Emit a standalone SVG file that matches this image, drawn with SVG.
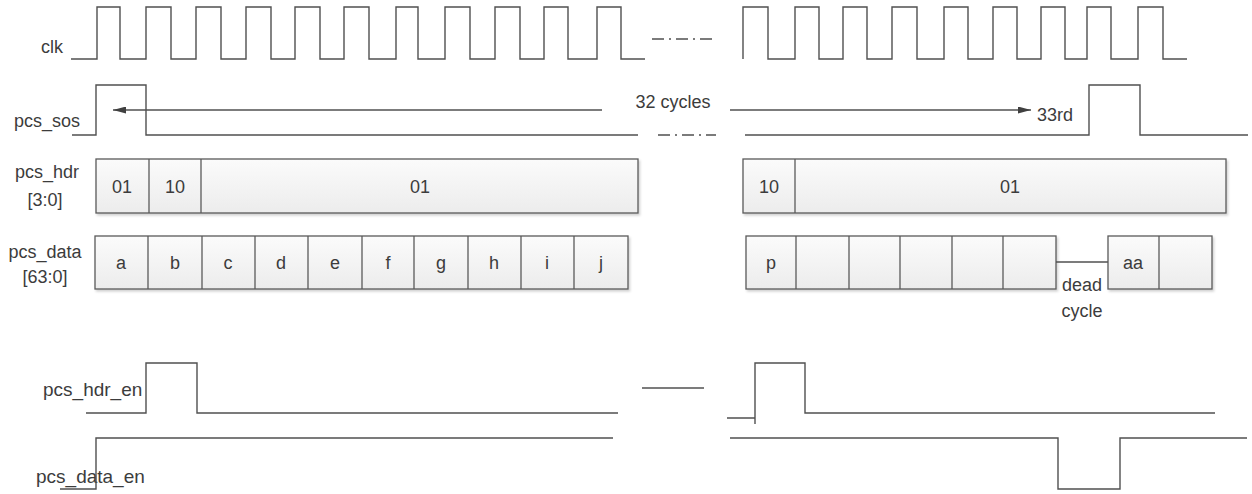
<svg xmlns="http://www.w3.org/2000/svg" width="1252" height="494" viewBox="0 0 1252 494">
<style>
.w{fill:none;stroke:#505050;stroke-width:1.4}
.dd{fill:none;stroke:#505050;stroke-width:1.4;stroke-dasharray:12 5 2 5}
.bx{fill:url(#g);stroke:#5a5a5a;stroke-width:1.3;filter:url(#sh)}
.dv{stroke:#5a5a5a;stroke-width:1.3}
text{font-family:"Liberation Sans",Arial,sans-serif;font-size:18px;fill:#3c3c3c}
.c{text-anchor:middle}
.en{font-size:19px}
</style>
<defs>
<linearGradient id="g" x1="0" y1="0" x2="0" y2="1"><stop offset="0" stop-color="#fbfbfb"/><stop offset="1" stop-color="#ececec"/></linearGradient>
<filter id="sh" x="-5%" y="-20%" width="110%" height="150%"><feDropShadow dx="1.5" dy="2" stdDeviation="1.2" flood-color="#000" flood-opacity="0.18"/></filter>
<marker id="ah" markerWidth="13" markerHeight="7" refX="13" refY="3.5" orient="auto" markerUnits="userSpaceOnUse"><path d="M0,0 L13,3.5 L0,7 Z" fill="#404040"/></marker>
</defs>
<g id="labels">
<text x="63" y="53" text-anchor="end">clk</text>
<text x="80" y="127" text-anchor="end">pcs_sos</text>
<text class="c" x="47" y="178">pcs_hdr</text>
<text class="c" x="45" y="206">[3:0]</text>
<text class="c" x="45" y="258">pcs_data</text>
<text class="c" x="45" y="283">[63:0]</text>
<text class="en" x="43" y="396">pcs_hdr_en</text>
<text class="en" x="36" y="483">pcs_data_en</text>
</g>
<g id="clk">
<path class="w" d="M71,59 H97 V7 H120 V59 H146 V7 H171 V59 H196 V7 H221 V59 H246 V7 H271 V59 H295 V7 H320 V59 H344 V7 H369 V59 H396 V7 H418 V59 H445 V7 H470 V59 H495 V7 H520 V59 H544 V7 H568 V59 H597 V7 H621 V59 H645"/>
<line class="dd" x1="652" y1="39" x2="712" y2="39"/>
<path class="w" d="M743,59 V7 H768 V59 H795 V7 H819 V59 H843 V7 H867 V59 H892 V7 H917 V59 H944 V7 H968 V59 H993 V7 H1017 V59 H1041 V7 H1065 V59 H1087 V7 H1111 V59 H1138 V7 H1163 V59 H1187"/>
</g>
<g id="pcs_sos">
<path class="w" d="M72,135 H96 V85 H146 V135 H638"/>
<line class="dd" x1="658" y1="135" x2="716" y2="135"/>
<path class="w" d="M745,135 H1089 V85 H1140 V135 H1248"/>
</g>
<g id="cycles">
<line class="w" x1="602" y1="110" x2="113" y2="110" marker-end="url(#ah)"/>
<text class="c" x="673" y="108">32 cycles</text>
<line class="w" x1="730" y1="110" x2="1031" y2="110" marker-end="url(#ah)"/>
<text x="1037" y="121">33rd</text>
</g>
<g id="pcs_hdr">
<rect class="bx" x="96" y="159" width="542" height="54"/>
<line class="dv" x1="149" y1="159" x2="149" y2="213"/>
<line class="dv" x1="201" y1="159" x2="201" y2="213"/>
<text class="c" x="122" y="193">01</text>
<text class="c" x="175" y="193">10</text>
<text class="c" x="420" y="193">01</text>
<rect class="bx" x="743" y="159" width="483" height="54"/>
<line class="dv" x1="795" y1="159" x2="795" y2="213"/>
<text class="c" x="769" y="193">10</text>
<text class="c" x="1010" y="193">01</text>
</g>
<g id="pcs_data">
<rect class="bx" x="95" y="236" width="533" height="53"/>
<g class="dv">
<line x1="148" y1="236" x2="148" y2="289"/>
<line x1="202" y1="236" x2="202" y2="289"/>
<line x1="255" y1="236" x2="255" y2="289"/>
<line x1="308" y1="236" x2="308" y2="289"/>
<line x1="362" y1="236" x2="362" y2="289"/>
<line x1="414" y1="236" x2="414" y2="289"/>
<line x1="468" y1="236" x2="468" y2="289"/>
<line x1="521" y1="236" x2="521" y2="289"/>
<line x1="574" y1="236" x2="574" y2="289"/>
</g>
<text class="c" x="121" y="269">a</text>
<text class="c" x="175" y="269">b</text>
<text class="c" x="228" y="269">c</text>
<text class="c" x="281" y="269">d</text>
<text class="c" x="335" y="269">e</text>
<text class="c" x="388" y="269">f</text>
<text class="c" x="441" y="269">g</text>
<text class="c" x="494" y="269">h</text>
<text class="c" x="547" y="269">i</text>
<text class="c" x="601" y="269">j</text>
<rect class="bx" x="746" y="236" width="310" height="53"/>
<g class="dv">
<line x1="796" y1="236" x2="796" y2="289"/>
<line x1="849" y1="236" x2="849" y2="289"/>
<line x1="900" y1="236" x2="900" y2="289"/>
<line x1="952" y1="236" x2="952" y2="289"/>
<line x1="1003" y1="236" x2="1003" y2="289"/>
</g>
<text class="c" x="771" y="269">p</text>
<line class="w" x1="1056" y1="262" x2="1108" y2="262"/>
<text class="c" x="1082" y="291">dead</text>
<text class="c" x="1082" y="317">cycle</text>
<rect class="bx" x="1108" y="236" width="104" height="53"/>
<line class="dv" x1="1159" y1="236" x2="1159" y2="289"/>
<text class="c" x="1133" y="269">aa</text>
</g>
<g id="pcs_hdr_en">
<path class="w" d="M86,413 H146 V363 H197 V413 H618"/>
<line class="w" x1="642" y1="388" x2="704" y2="388"/>
<path class="w" d="M727,418 H755 M755,424 V363 H805 V413 H1215"/>
</g>
<g id="pcs_data_en">
<path class="w" d="M60,489 H96 V438 H613"/>
<path class="w" d="M730,438 H1058 V489 H1120 V438 H1247"/>
</g>
</svg>
